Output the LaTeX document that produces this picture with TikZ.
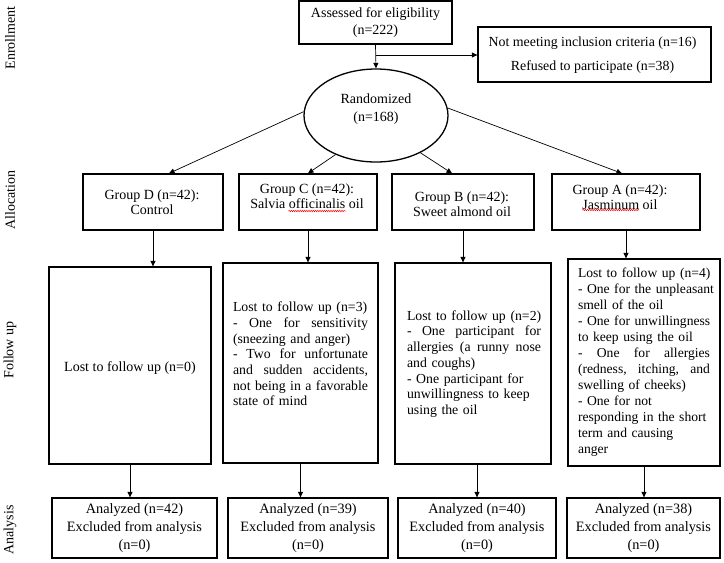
\documentclass[tikz,border=0pt]{standalone}
\usepackage{fontspec}
\setmainfont{Liberation Serif}
\usetikzlibrary{arrows.meta,shapes.geometric,decorations.pathmorphing}
\newcommand{\fsz}[2]{\fontsize{#1}{#2}\selectfont}
\newcommand{\jl}[2]{\leavevmode\hbox to #1{#2}}
\begin{document}
\begin{tikzpicture}[x=1pt,y=-1pt,
  box/.style={draw, line width=1.3pt, inner sep=0pt, align=center, font=\fsz{14}{16}},
  txt/.style={inner sep=0pt, align=center, font=\fsz{14}{15}},
  ftxt/.style={inner sep=0pt, align=left, font=\fsz{13.8}{15.7}},
  arr/.style={line width=0.7pt, -{Triangle[width=5pt,length=5.5pt]}},
  side/.style={rotate=90, inner sep=0pt, font=\fsz{14}{16}},
  squig/.style={red, line width=0.5pt, decorate, decoration={snake, amplitude=0.7pt, segment length=2.2pt}}
]
\useasboundingbox (0,0) rectangle (724,563);
\fill[white] (0,0) rectangle (724,563);

% side labels
\node[side] (lenr) at (10,38) {Enrollment};
\node[side] (lall) at (10,200) {Allocation};
\node[side] (lfol) at (10,350) {Follow up};
\node[side] (lana) at (10,530) {Analysis};

% enrollment
\node[box, minimum width=153pt, minimum height=43pt, font=\fsz{14}{17}] (assess) at (375.5,22.5) {Assessed for eligibility\\(n=222)};
\node[box, minimum width=233pt, minimum height=55pt] (excl) at (594.5,54.5) {};
\node[txt, font=\fsz{13.9}{24}] (exclt) at (592.5,55.5) {Not meeting inclusion criteria (n=16)\\Refused to participate (n=38)};
\node[draw, ellipse, line width=1.3pt, minimum width=144pt, minimum height=93pt, inner sep=0pt] (rand) at (376,115.5) {};
\node[txt, font=\fsz{14}{18}] (randt) at (376,109) {Randomized\\(n=168)};

% groups
\node[box, minimum width=140pt, minimum height=56pt] (gD) at (153,202) {};
\node[txt] (gDt) at (152,202.5) {Group D (n=42):\\Control};
\node[box, minimum width=138pt, minimum height=56pt] (gC) at (308,202) {};
\node[txt] (gCt) at (307,196.5) {Group C (n=42):\\Salvia officinalis oil};
\node[box, minimum width=142pt, minimum height=56pt] (gB) at (463,202) {};
\node[txt] (gBt) at (462,204.5) {Group B (n=42):\\Sweet almond oil};
\node[box, minimum width=148pt, minimum height=56pt] (gA) at (626,202) {};
\node[txt] (gAt) at (620,197.5) {Group A (n=42):\\Jasminum oil};
\draw[squig] (288.5,211) -- (345.5,211);
\draw[squig] (582.5,210) -- (639,210);

% follow up
\node[box, minimum width=162pt, minimum height=197pt] (fD) at (130,365.5) {};
\node[txt] (fDt) at (130,368) {Lost to follow up (n=0)};
\node[box, minimum width=155pt, minimum height=200pt] (fC) at (300.5,363) {};
\node[ftxt, text width=138pt] (fCt) at (302,354) {Lost to follow up (n=3)\\
\jl{135pt}{-\hfill One\hfill for\hfill sensitivity}\\
(sneezing and anger)\\
\jl{135pt}{-\hfill Two\hfill for\hfill unfortunate}\\
\jl{135pt}{and\hfill sudden\hfill accidents,}\\
\jl{135pt}{not\hfill being\hfill in\hfill a\hfill favorable}\\
state of mind};
\node[box, minimum width=156pt, minimum height=201pt] (fB) at (473,363.5) {};
\node[ftxt, text width=137pt] (fBt) at (475.5,364) {Lost to follow up (n=2)\\
\jl{134pt}{-\hfill One\hfill participant\hfill for}\\
\jl{134pt}{allergies\hfill (a\hfill runny\hfill nose}\\
and coughs)\\
- One participant for\\
unwillingness to keep\\
using the oil};
\node[box, minimum width=152pt, minimum height=207pt] (fA) at (644,362.5) {};
\node[ftxt, font=\fsz{13.6}{16}, text width=142pt] (fAt) at (649,362) {Lost to follow up (n=4)\\
- One for the unpleasant\\
smell of the oil\\
- One for unwillingness\\
to keep using the oil\\
\jl{132pt}{-\hfill One\hfill for\hfill allergies}\\
\jl{132pt}{(redness,\hfill itching,\hfill and}\\
swelling of cheeks)\\
- One for not\\
responding in the short\\
term and causing\\
anger};

% analysis
\node[box, minimum width=165pt, minimum height=60pt, font=\fsz{14.3}{18}] (aD) at (134.5,528) {Analyzed (n=42)\\Excluded from analysis\\(n=0)};
\node[box, minimum width=160pt, minimum height=60pt, font=\fsz{14.3}{18}] (aC) at (308,528) {Analyzed (n=39)\\Excluded from analysis\\(n=0)};
\node[box, minimum width=158pt, minimum height=60pt, font=\fsz{14.3}{18}] (aB) at (477,528) {Analyzed (n=40)\\Excluded from analysis\\(n=0)};
\node[box, minimum width=153pt, minimum height=60pt, font=\fsz{14.3}{18}] (aA) at (643.5,528) {Analyzed (n=38)\\Excluded from analysis\\(n=0)};

% connectors
\coordinate (br) at (375.5,55);
\draw[arr] (assess.south) -- (rand.north);
\draw[arr] (br) -- (br -| excl.west);
\draw[arr] (rand.177) -- ([xshift=16pt]gD.north);
\draw[arr] (rand.224) -- (gC.north);
\draw[arr] (rand.320) -- ([xshift=-11pt]gB.north);
\draw[arr] (rand.6) -- ([xshift=-4pt]gA.north);
\draw[arr] (gD.south) -- (gD.south |- fD.north);
\draw[arr] (gC.south) -- (gC.south |- fC.north);
\draw[arr] (gB.south) -- (gB.south |- fB.north);
\draw[arr] (gA.south) -- (gA.south |- fA.north);
\draw[arr] (fD.south) -- (fD.south |- aD.north);
\draw[arr] (fC.south) -- (fC.south |- aC.north);
\draw[arr] (aB.north |- fB.south) -- (aB.north);
\draw[arr] (fA.south) -- (fA.south |- aA.north);
\end{tikzpicture}
\end{document}
